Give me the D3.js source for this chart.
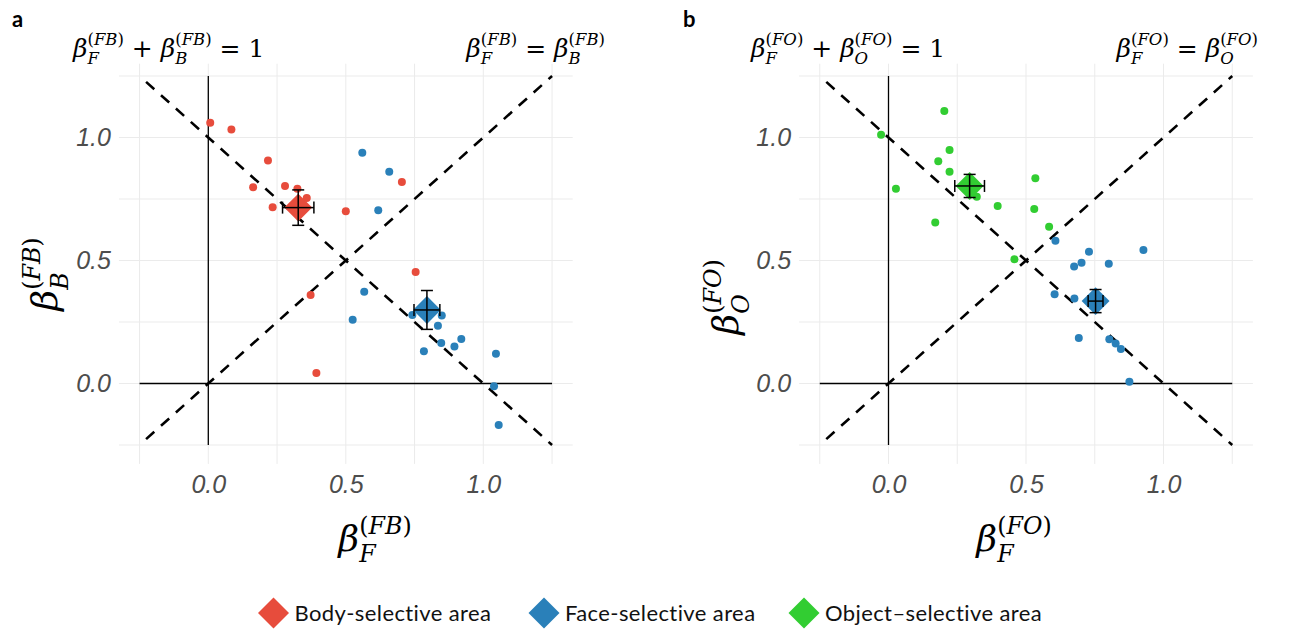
<!DOCTYPE html>
<html>
<head>
<meta charset="utf-8">
<script src="https://cdn.jsdelivr.net/npm/d3@7"></script>
<style>
  body { margin: 0; background: #fff; }
  text { white-space: pre; }
</style>
</head>
<body>
<svg width="1295" height="633"></svg>
<script>
const svg = d3.select("svg");

// ---- data ----
const tickValues = [0, 0.5, 1];
const gridValues = [-0.25, 0, 0.25, 0.5, 0.75, 1, 1.25];

// panel a: face vs body
const bodyFB_x = [0.007, 0.084, 0.217, 0.163, 0.279, 0.324, 0.358, 0.234, 0.50, 0.704, 0.754, 0.372, 0.393];
const bodyFB_y = [1.060, 1.033, 0.907, 0.798, 0.803, 0.792, 0.754, 0.716, 0.70, 0.819, 0.453, 0.360, 0.043];
const faceFB_x = [0.56, 0.658, 0.618, 0.567, 0.525, 0.742, 0.849, 0.835, 0.847, 0.784, 0.895, 0.92, 1.046, 1.039, 1.056];
const faceFB_y = [0.938, 0.861, 0.704, 0.373, 0.259, 0.278, 0.276, 0.235, 0.165, 0.131, 0.150, 0.181, 0.121, -0.011, -0.169];
// means: [x, y, errX, errY]
const bodyFB_mean = [0.327, 0.715, 0.057, 0.072];
const faceFB_mean = [0.795, 0.299, 0.047, 0.079];

// panel b: face vs object
const objFO_x = [0.203, -0.027, 0.222, 0.181, 0.222, 0.027, 0.321, 0.397, 0.534, 0.530, 0.584, 0.170, 0.458];
const objFO_y = [1.108, 1.011, 0.949, 0.903, 0.861, 0.792, 0.759, 0.722, 0.834, 0.709, 0.637, 0.654, 0.505];
const faceFO_x = [0.607, 0.729, 0.927, 0.675, 0.702, 0.801, 0.604, 0.676, 0.692, 0.803, 0.826, 0.845, 0.876];
const faceFO_y = [0.580, 0.536, 0.543, 0.476, 0.491, 0.487, 0.363, 0.346, 0.185, 0.180, 0.163, 0.140, 0.007];
const objFO_mean = [0.295, 0.803, 0.054, 0.047];
const faceFO_mean = [0.753, 0.335, 0.027, 0.047];

const legendLabels = ["Body-selective area", "Face-selective area", "Object\u2013selective area"];
const colors = { body: "#E74C3C", face: "#2A80B9", object: "#32CD32" };

const mathFont = "DejaVu Serif";
const tickFont = "Liberation Sans";

// scales (same y for both panels)
const y = d3.scaleLinear().domain([0, 1]).range([383.5, 137.5]);
const xA = d3.scaleLinear().domain([0, 1]).range([208.3, 483.3]);
const xB = d3.scaleLinear().domain([0, 1]).range([888.5, 1163.5]);
const panelX = [-0.325, 1.325], panelY = [-0.327, 1.30];

// ---- math label helper: tokens are strings or {sup, sub} ----
function mathLabel(parent, tokens, size) {
  const g = parent.append("g");
  let cx = 0;
  tokens.forEach(tk => {
    if (typeof tk === "string") {
      const t = g.append("text").attr("x", cx).attr("y", 0)
        .attr("font-family", mathFont).attr("font-size", size)
        .attr("font-style", tk === "\u03b2" ? "italic" : "normal")
        .text(tk);
      cx += t.node().getComputedTextLength();
    } else {
      const s = size * 0.66;
      const sup = g.append("text").attr("x", cx).attr("y", -size * 0.47)
        .attr("font-family", mathFont).attr("font-size", s);
      sup.append("tspan").text("(");
      sup.append("tspan").attr("font-style", "italic").text(tk.sup);
      sup.append("tspan").text(")");
      const sub = g.append("text").attr("x", cx).attr("y", size * 0.3)
        .attr("font-family", mathFont).attr("font-size", s)
        .attr("font-style", "italic").text(tk.sub);
      cx += Math.max(sup.node().getComputedTextLength(), sub.node().getComputedTextLength());
    }
  });
  return g;
}

function place(g, opt) {
  const b = g.node().getBBox();
  let tx;
  if (opt.left !== undefined) tx = opt.left - b.x;
  else if (opt.right !== undefined) tx = opt.right - b.x - b.width;
  else tx = opt.cx - b.x - b.width / 2;
  const ty = opt.cy - b.y - b.height / 2;
  g.attr("transform", `translate(${tx},${ty})`);
}

function placeRotated(g, cx, cy) {
  const b = g.node().getBBox();
  g.attr("transform", `translate(${cx},${cy}) rotate(-90) translate(${-b.x - b.width / 2},${-b.y - b.height / 2})`);
}

// ---- panel drawing ----
function drawPanel(x, cfg) {
  const g = svg.append("g");
  const x0 = x(panelX[0]), x1 = x(panelX[1]);
  const y0 = y(panelY[0]), y1 = y(panelY[1]);

  // grid
  g.selectAll(".vg").data(gridValues).join("line")
    .attr("x1", d => x(d)).attr("x2", d => x(d))
    .attr("y1", y1).attr("y2", y0)
    .attr("stroke", "#ebebeb").attr("stroke-width", 1);
  g.selectAll(".hg").data(gridValues).join("line")
    .attr("y1", d => y(d)).attr("y2", d => y(d))
    .attr("x1", x0).attr("x2", x1)
    .attr("stroke", "#ebebeb").attr("stroke-width", 1);

  // axes at zero
  g.append("line").attr("x1", x(0)).attr("x2", x(0)).attr("y1", y(-0.25)).attr("y2", y(1.25))
    .attr("stroke", "#000").attr("stroke-width", 1.3);
  g.append("line").attr("y1", y(0)).attr("y2", y(0)).attr("x1", x(-0.25)).attr("x2", x(1.25))
    .attr("stroke", "#000").attr("stroke-width", 1.3);

  // dashed reference lines, phased so that they cross in a dash
  const D = 11, P = 20;
  [[-0.25, 1.25, 1.25, -0.25], [-0.25, -0.25, 1.25, 1.25]].forEach(s => {
    const ax = x(s[0]), ay = y(s[1]), bx = x(s[2]), by = y(s[3]);
    const half = Math.hypot(bx - ax, by - ay) / 2;
    const off = (((D / 2 - half) % P) + P) % P;
    g.append("line").attr("x1", ax).attr("y1", ay).attr("x2", bx).attr("y2", by)
      .attr("stroke", "#000").attr("stroke-width", 2.6)
      .attr("stroke-dasharray", `${D},${P - D}`).attr("stroke-dashoffset", -off);
  });

  // tick labels
  const ax = g.append("g").attr("transform", `translate(0,${y0})`)
    .call(d3.axisBottom(x).tickValues(tickValues).tickFormat(d3.format(".1f")).tickSize(0).tickPadding(11));
  const ay = g.append("g").attr("transform", `translate(${x0},0)`)
    .call(d3.axisLeft(y).tickValues(tickValues).tickFormat(d3.format(".1f")).tickSize(0).tickPadding(8));
  [ax, ay].forEach(a => {
    a.select(".domain").remove();
    a.selectAll("text").attr("font-family", tickFont).attr("font-size", 25)
      .attr("font-style", "italic").attr("fill", "#4d4d4d");
  });

  // individual points
  cfg.series.forEach(s => {
    g.selectAll(null).data(d3.zip(s.xs, s.ys)).join("circle")
      .attr("cx", d => x(d[0])).attr("cy", d => y(d[1])).attr("r", 4)
      .attr("fill", s.color);
  });

  // means with error bars
  const diamond = d3.symbol().type(d3.symbolSquare).size(390);
  cfg.means.forEach(m => {
    const [mx, my, ex, ey] = m.v;
    g.append("path").attr("d", diamond())
      .attr("transform", `translate(${x(mx)},${y(my)}) rotate(45)`)
      .attr("fill", m.color);
    const cap = 6;
    const eb = g.append("g").attr("stroke", "#000").attr("stroke-width", 1.5);
    eb.append("line").attr("x1", x(mx - ex)).attr("x2", x(mx + ex)).attr("y1", y(my)).attr("y2", y(my));
    eb.append("line").attr("x1", x(mx - ex)).attr("x2", x(mx - ex)).attr("y1", y(my) - cap).attr("y2", y(my) + cap);
    eb.append("line").attr("x1", x(mx + ex)).attr("x2", x(mx + ex)).attr("y1", y(my) - cap).attr("y2", y(my) + cap);
    eb.append("line").attr("y1", y(my - ey)).attr("y2", y(my + ey)).attr("x1", x(mx)).attr("x2", x(mx));
    eb.append("line").attr("y1", y(my - ey)).attr("y2", y(my - ey)).attr("x1", x(mx) - cap).attr("x2", x(mx) + cap);
    eb.append("line").attr("y1", y(my + ey)).attr("y2", y(my + ey)).attr("x1", x(mx) - cap).attr("x2", x(mx) + cap);
  });

  // annotations and titles
  const k = cfg.key, o = cfg.other;
  place(mathLabel(svg, ["\u03b2", { sup: k, sub: "F" }, " + ", "\u03b2", { sup: k, sub: o }, " = 1"], 25),
    { left: cfg.annLeft, cy: 49 });
  place(mathLabel(svg, ["\u03b2", { sup: k, sub: "F" }, " = ", "\u03b2", { sup: k, sub: o }], 25),
    { right: cfg.annRight, cy: 49 });
  place(mathLabel(svg, ["\u03b2", { sup: k, sub: "F" }], 36), { cx: cfg.xTitle, cy: 540 });
  placeRotated(mathLabel(svg, ["\u03b2", { sup: k, sub: o }], 36), cfg.yTitle[0], cfg.yTitle[1]);

  svg.append("text").attr("x", cfg.tag[0]).attr("y", 27)
    .attr("font-family", "Lato").attr("font-weight", "bold").attr("font-size", 22)
    .text(cfg.tag[1]);
}

drawPanel(xA, {
  series: [
    { xs: bodyFB_x, ys: bodyFB_y, color: colors.body },
    { xs: faceFB_x, ys: faceFB_y, color: colors.face }
  ],
  means: [
    { v: bodyFB_mean, color: colors.body },
    { v: faceFB_mean, color: colors.face }
  ],
  key: "FB", other: "B",
  annLeft: 72, annRight: 605, xTitle: 374, yTitle: [46, 275], tag: [12, "a"]
});

drawPanel(xB, {
  series: [
    { xs: objFO_x, ys: objFO_y, color: colors.object },
    { xs: faceFO_x, ys: faceFO_y, color: colors.face }
  ],
  means: [
    { v: objFO_mean, color: colors.object },
    { v: faceFO_mean, color: colors.face }
  ],
  key: "FO", other: "O",
  annLeft: 750, annRight: 1258, xTitle: 1013, yTitle: [727, 298], tag: [683, "b"]
});

// ---- legend ----
const legendX = [273.5, 544, 804];
const legendColors = [colors.body, colors.face, colors.object];
const legendSym = d3.symbol().type(d3.symbolSquare).size(480);
const lg = svg.append("g").selectAll("g").data(legendLabels).join("g")
  .attr("transform", (d, i) => `translate(${legendX[i]},613)`);
lg.append("path").attr("d", legendSym()).attr("transform", "rotate(45)")
  .attr("fill", (d, i) => legendColors[i]);
lg.append("text").attr("x", 21).attr("y", 8)
  .attr("font-family", "Lato").attr("font-size", 22).attr("letter-spacing", 0.4)
  .attr("fill", "#111")
  .text(d => d);
</script>
</body>
</html>
